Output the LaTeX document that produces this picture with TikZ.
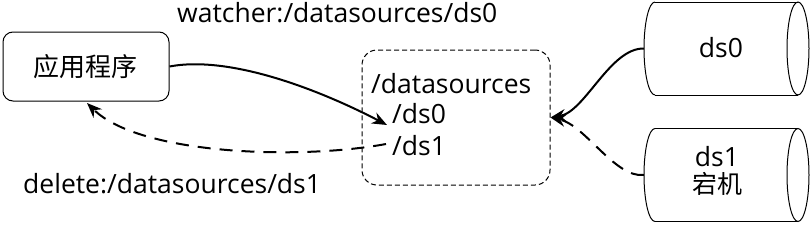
\documentclass[tikz,border=0pt]{standalone}
\usepackage{fontspec}
\setmainfont{Open Sans}
\newfontfamily\cjk{Noto Sans CJK SC}
\usetikzlibrary{arrows.meta}
\begin{document}
\begin{tikzpicture}[x=1pt,y=-1pt,
  txt/.style={font=\fontsize{26.5}{30}\selectfont, inner sep=0pt},
  appbox/.style={draw, rounded corners=10pt, line width=1pt, minimum width=166pt, minimum height=69pt, font=\cjk\fontsize{26}{30}\selectfont},
  storebox/.style={draw, dashed, dash pattern=on 5pt off 3pt, rounded corners=15pt, line width=1pt, minimum width=188pt, minimum height=135pt},
  cylbody/.style={minimum width=165pt, minimum height=93pt, inner sep=0pt},
  cylline/.style={line width=1pt},
  conn/.style={line width=2pt, -{Stealth[length=15pt,width=12pt]}},
  dconn/.style={conn, dash pattern=on 13pt off 9pt}
]
\useasboundingbox (0,0) rectangle (812,225);
% application
\node[appbox] (app) at (86,66.5) {应用程序};
% store
\node[storebox] (store) at (456,117.5) {};
\node[txt, anchor=base west] (title) at (371,93) {/datasources};
\node[txt, anchor=base west] (d0) at (392,123) {/ds0};
\node[txt, anchor=base west] (d1) at (392,155) {/ds1};
\coordinate (in0) at (387,125);
\coordinate (out1) at (386,144);
% cylinders
\node[cylbody] (ds0) at (726.5,48.5) {};
\node[txt] at (721,48) {ds0};
\draw[cylline] (655,2) -- (798,2) (655,95) -- (798,95);
\draw[cylline] (655,2) arc[start angle=270,end angle=90,x radius=11,y radius=46.5];
\draw[cylline] (798,48.5) ellipse[x radius=11,y radius=46.5];
\node[cylbody] (ds1) at (726.5,175) {};
\node[txt, align=center] at (717,171) {ds1\\[-3pt]{\cjk\fontsize{25}{28}\selectfont 宕机}};
\draw[cylline] (655,128.5) -- (798,128.5) (655,221.5) -- (798,221.5);
\draw[cylline] (655,128.5) arc[start angle=270,end angle=90,x radius=11,y radius=46.5];
\draw[cylline] (798,175) ellipse[x radius=11,y radius=46.5];
% labels
\node[txt, anchor=base west] (wlab) at (177,22) {watcher:/datasources/ds0};
\node[txt, anchor=base west] (dlab) at (23,193) {delete:/datasources/ds1};
% connectors
\draw[conn] (app.east) .. controls (230,55) and (320,90) .. (in0);
\draw[dconn] (out1) .. controls (300,160) and (140,155) .. (87,103);
\draw[conn] (ds0.west) .. controls (610,48) and (585,112) .. (store.east);
\draw[dconn] (ds1.west) .. controls (615,178) and (585,125) .. (store.east);
\end{tikzpicture}
\end{document}
